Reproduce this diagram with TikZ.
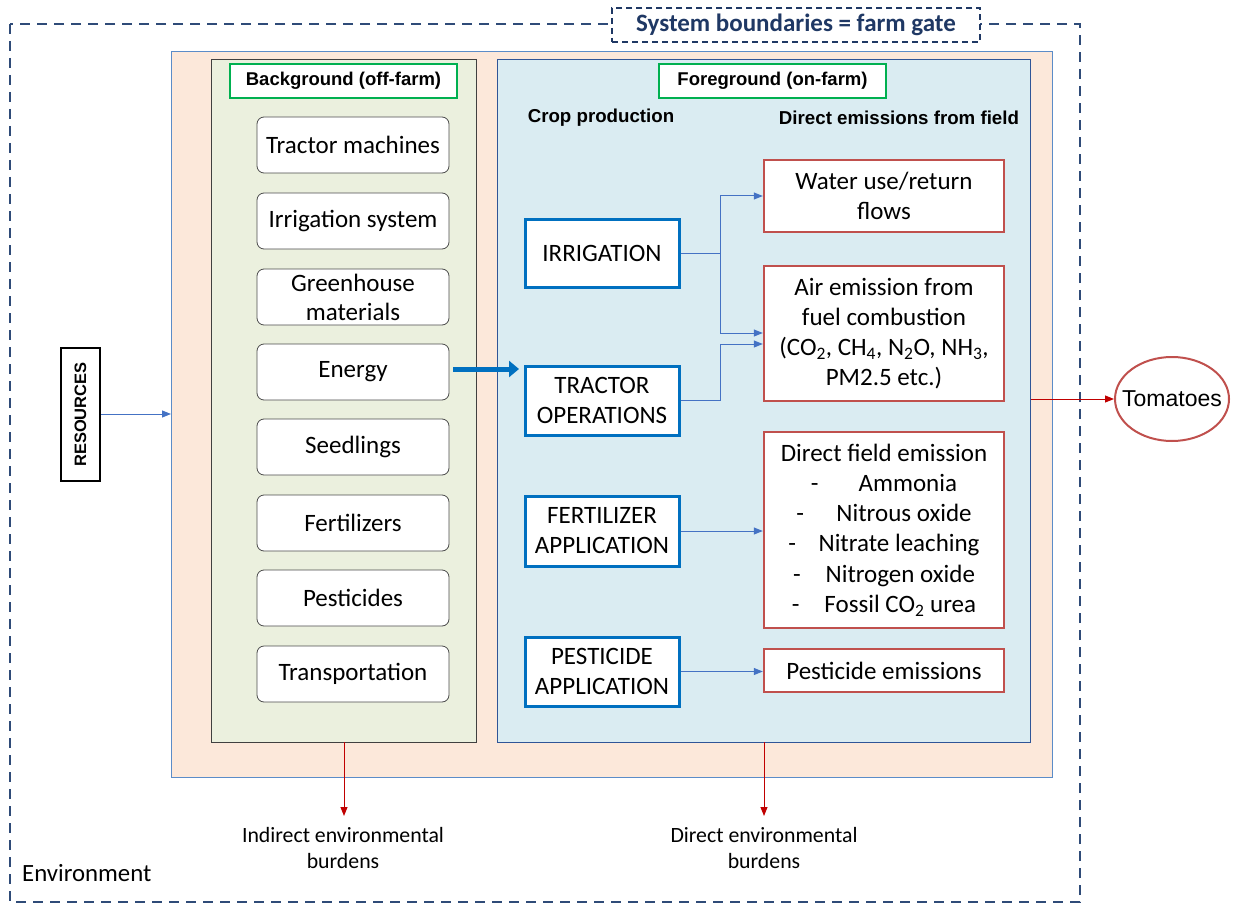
\documentclass[tikz,border=0pt]{standalone}
\usepackage{fontspec}
\setmainfont{Carlito}
\newfontfamily\arial{Liberation Sans}
\usetikzlibrary{arrows.meta,shapes.geometric}
\definecolor{navy}{RGB}{47,75,120}
\definecolor{titlenavy}{RGB}{31,56,100}
\definecolor{peach}{RGB}{252,232,218}
\definecolor{peachline}{RGB}{91,140,200}
\definecolor{greenfill}{RGB}{235,240,222}
\definecolor{bluefill}{RGB}{218,236,242}
\definecolor{bluebox}{RGB}{47,85,151}
\definecolor{procblue}{RGB}{0,112,192}
\definecolor{emisred}{RGB}{192,80,77}
\definecolor{labgreen}{RGB}{0,176,80}
\definecolor{arrblue}{RGB}{68,114,196}
\definecolor{arrred}{RGB}{192,0,0}
\tikzset{
  inbox/.style={draw=black!70, fill=white, rounded corners=7pt, line width=0.8pt, inner sep=0pt, align=center, minimum width=192pt, minimum height=56pt, font=\fontsize{25}{29}\selectfont},
  procbox/.style={draw=procblue, fill=white, line width=3pt, inner sep=0pt, align=center, minimum width=154pt, font=\fontsize{25}{30}\selectfont},
  emisbox/.style={draw=emisred, fill=white, line width=2.4pt, inner sep=0pt, align=center, minimum width=240pt, font=\fontsize{25}{30.2}\selectfont},
  labbox/.style={draw=labgreen, fill=white, line width=1.3pt, inner sep=0pt, minimum width=227pt, minimum height=34pt, font=\arial\bfseries\fontsize{18.5}{22}\selectfont},
  hdr/.style={font=\arial\bfseries\fontsize{18.7}{22}\selectfont, inner sep=0pt},
  conn/.style={draw=arrblue, line width=1pt, -{Triangle[length=9pt,width=7pt]}},
  redconn/.style={draw=arrred, line width=1pt, -{Triangle[length=9pt,width=7pt]}},
  burden/.style={align=center, font=\fontsize{21.8}{26}\selectfont, inner sep=0pt}
}
\begin{document}
\begin{tikzpicture}[x=1pt,y=-1pt]
\useasboundingbox (0,0) rectangle (1236,904);
% environment boundary
\draw[navy, line width=2pt, dash pattern=on 10pt off 7pt] (10,24) rectangle (1080,902);
% peach area
\draw[fill=peach, draw=peachline, line width=1pt] (171,52) rectangle (1052,777);
% background and foreground panels
\node[draw=black!75, fill=greenfill, line width=1pt, minimum width=265pt, minimum height=682pt, inner sep=0pt] (bg) at (343.5,401) {};
\node[draw=bluebox, fill=bluefill, line width=1pt, minimum width=533pt, minimum height=682pt, inner sep=0pt] (fg) at (763.5,401) {};
% title
\node[draw=titlenavy, fill=white, line width=1.2pt, dash pattern=on 6pt off 4pt, minimum width=368pt, minimum height=34pt, inner sep=0pt, font=\bfseries\fontsize{25}{28}\selectfont, text=titlenavy] (title) at (796,25) {System boundaries = farm gate};
% labels
\node[labbox] (bglab) at (343.5,81) {Background (off-farm)};
\node[labbox] (fglab) at (772.5,81) {Foreground (on-farm)};
\node[hdr] (crop) at (601,118) {Crop production};
\node[hdr] (direct) at (899,118) {Direct emissions from field};
% background items
\node[inbox] (b1) at (353,145) {Tractor machines};
\node[inbox] (b2) at (353,221) {Irrigation system};
\node[inbox] (b3) at (353,297) {Greenhouse\\materials};
\node[inbox] (b4) at (353,372) {Energy};
\node[inbox] (b5) at (353,447) {Seedlings};
\node[inbox] (b6) at (353,523) {Fertilizers};
\node[inbox] (b7) at (353,598) {Pesticides};
\node[inbox] (b8) at (353,674) {Transportation};
% process boxes
\node[procbox, minimum height=68pt] (irr) at (602,253) {IRRIGATION};
\node[procbox, minimum height=69pt] (trac) at (602,400.5) {TRACTOR\\OPERATIONS};
\node[procbox, minimum height=70pt] (fert) at (602,531) {FERTILIZER\\APPLICATION};
\node[procbox, minimum height=69pt] (pest) at (602,671.5) {PESTICIDE\\APPLICATION};
% emission boxes
\node[emisbox, minimum height=72pt] (water) at (884,196) {Water use/return\\flows};
\node[emisbox, minimum height=135pt] (air) at (884,333.5) {Air emission from\\fuel combustion\\(CO\textsubscript{2}, CH\textsubscript{4}, N\textsubscript{2}O, NH\textsubscript{3},\\PM2.5 etc.)};
\node[emisbox, minimum height=196pt] (dfe) at (884,530) {Direct field emission\\-\hspace{1.6em}Ammonia\\-\hspace{1.3em}Nitrous oxide\\-\hspace{0.9em}Nitrate leaching\\-\hspace{1em}Nitrogen oxide\\-\hspace{1em}Fossil CO\textsubscript{2} urea};
\node[emisbox, minimum height=43pt] (pem) at (884,670.5) {Pesticide emissions};
% connectors crop -> emissions
\coordinate (jx) at (720,0);
\draw[conn] (irr.east) -- (irr.east -| jx) |- (water.west);
\draw[conn] (irr.east -| jx) |- ([yshift=0.5pt]air.west);
\draw[conn] (trac.east) -- (trac.east -| jx) |- ([yshift=-10.5pt]air.west);
\draw[conn] (fert.east) -- (fert.east -| dfe.west);
\draw[conn] (pest.east) -- (pest.east -| pem.west);
% energy thick arrow
\coordinate (ea) at (519,369);
\draw[draw=procblue, line width=5pt, -{Triangle[length=10pt,width=16pt]}] ([xshift=4pt]b4.east |- ea) -- (ea);
% resources
\node[draw=black, fill=white, line width=2.5pt, minimum width=39pt, minimum height=133pt, inner sep=0pt] (res) at (80.5,414.5) {};
\node[rotate=90, font=\arial\bfseries\fontsize{16.5}{19}\selectfont, inner sep=0pt] (restext) at (res.center) {RESOURCES};
\coordinate (peachL) at (171,414);
\draw[conn] (res.east |- peachL) -- (peachL);
% tomatoes
\node[draw=emisred, fill=white, line width=2pt, ellipse, minimum width=114pt, minimum height=84pt, inner sep=0pt] (tom) at (1172,399) {};
\node[font=\arial\fontsize{23}{26}\selectfont, inner sep=0pt] (tomtext) at (tom.center) {Tomatoes};
\draw[redconn] (fg.east |- tom.west) -- (tom.west);
% burdens
\node[burden] (ind) at (343,848) {Indirect environmental\\burdens};
\node[burden] (dir) at (764,848) {Direct environmental\\burdens};
\coordinate (bgb) at (344,742);
\coordinate (fgb) at (764,742);
\draw[redconn] (bgb) -- (bgb |- 0,816);
\draw[redconn] (fgb) -- (fgb |- 0,816);
% environment
\node[anchor=base west, font=\fontsize{24.8}{28}\selectfont, inner sep=0pt] (env) at (22,881) {Environment};
\end{tikzpicture}
\end{document}
